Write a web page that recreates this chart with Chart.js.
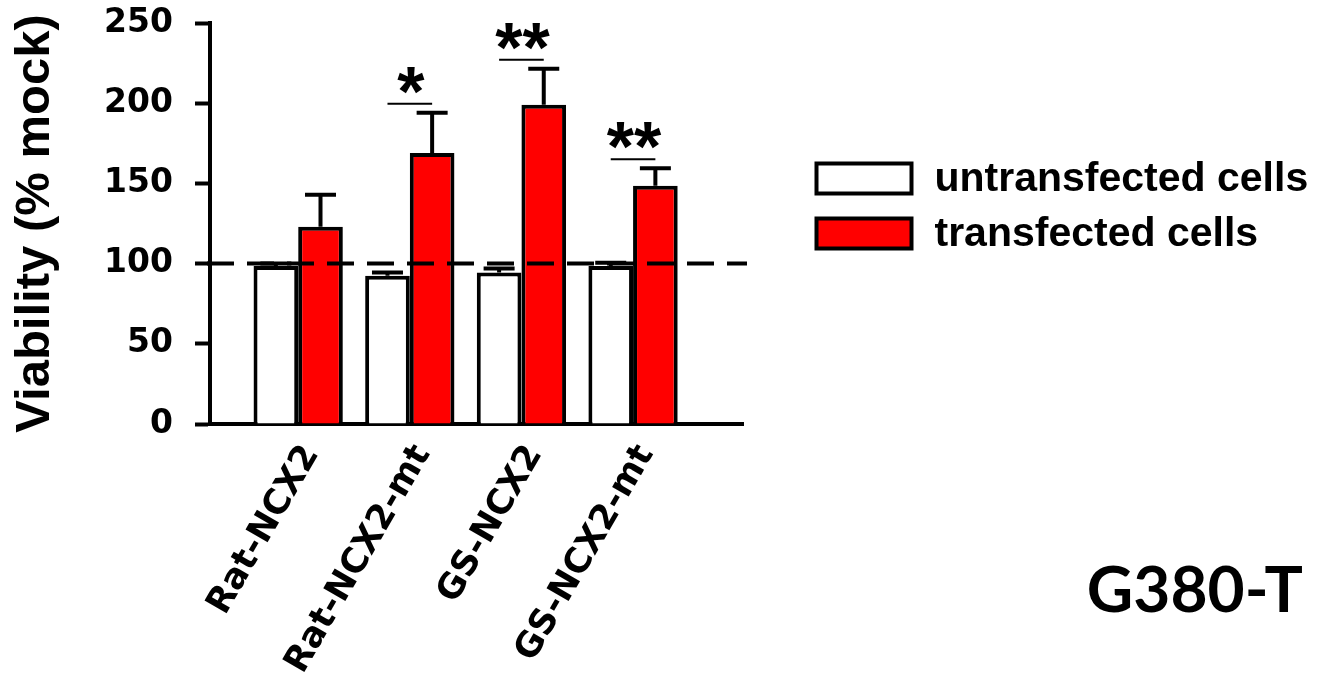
<!DOCTYPE html>
<html>
<head>
<meta charset="utf-8">
<script src="https://cdn.jsdelivr.net/npm/chart.js@4.4.1/dist/chart.umd.min.js"></script>
<style>
  html, body { margin: 0; padding: 0; background: #ffffff; }
  #wrap { width: 1326px; height: 678px; }
</style>
</head>
<body>
<div id="wrap"><canvas id="chart" width="1326" height="678"></canvas></div>
<script>
// Constructs tested, one group per construct
const groups = ['Rat-NCX2', 'Rat-NCX2-mt', 'GS-NCX2', 'GS-NCX2-mt'];

// Mean viability (% of mock) and SEM
const untransfected = [98.5, 92.5, 94.5, 98.5];
const untransfectedSem = [1.5, 2, 2.5, 2];
const transfected = [123, 169, 199, 148.5];
const transfectedSem = [20, 25, 22.5, 11];

// Significance of transfected vs untransfected
const significance = ['', '*', '**', '**'];

// Y axis range and mock reference level
const yMin = 0;
const yMax = 250;
const yStep = 50;
const mockLevel = 100;

const panelName = 'G380-T';

const BLACK = '#000000';
const RED = '#ff0000';
const LINE = 4;

// Upward SEM whiskers on every bar
const errorBarPlugin = {
  id: 'errorBars',
  afterDatasetsDraw(chart) {
    const ctx = chart.ctx;
    const y = chart.scales.y;
    const sems = [untransfectedSem, transfectedSem];
    const means = [untransfected, transfected];
    ctx.save();
    ctx.strokeStyle = BLACK;
    ctx.lineWidth = LINE;
    chart.data.datasets.forEach((ds, d) => {
      const meta = chart.getDatasetMeta(d);
      meta.data.forEach((bar, i) => {
        const top = y.getPixelForValue(means[d][i] + sems[d][i]);
        ctx.beginPath();
        ctx.moveTo(bar.x, bar.y);
        ctx.lineTo(bar.x, top);
        ctx.moveTo(bar.x - 15.5, top);
        ctx.lineTo(bar.x + 15.5, top);
        ctx.stroke();
      });
    });
    ctx.restore();
  }
};

// Dashed line at the mock level, drawn over the bars
const mockLinePlugin = {
  id: 'mockLine',
  afterDatasetsDraw(chart) {
    const ctx = chart.ctx;
    const area = chart.chartArea;
    const yPix = chart.scales.y.getPixelForValue(mockLevel);
    ctx.save();
    ctx.strokeStyle = BLACK;
    ctx.lineWidth = LINE;
    ctx.setLineDash([27, 13]);
    ctx.beginPath();
    ctx.moveTo(area.left - 3, yPix);
    ctx.lineTo(area.right + 4, yPix);
    ctx.stroke();
    ctx.restore();
  }
};

// Significance bars and asterisks
const significancePlugin = {
  id: 'significance',
  afterDatasetsDraw(chart) {
    const ctx = chart.ctx;
    const y = chart.scales.y;
    const left = chart.getDatasetMeta(0).data;
    const right = chart.getDatasetMeta(1).data;
    ctx.save();
    ctx.strokeStyle = BLACK;
    ctx.fillStyle = BLACK;
    ctx.lineWidth = 2;
    ctx.font = 'bold 70px "Liberation Sans", Arial, sans-serif';
    ctx.textAlign = 'center';
    ctx.textBaseline = 'alphabetic';
    significance.forEach((mark, i) => {
      if (!mark) return;
      const lineY = y.getPixelForValue(transfected[i] + transfectedSem[i]) - 9;
      const x0 = left[i].x;
      const x1 = right[i].x;
      ctx.beginPath();
      ctx.moveTo(x0, lineY);
      ctx.lineTo(x1, lineY);
      ctx.stroke();
      ctx.fillText(mark, (x0 + x1) / 2 + 1, lineY + 12);
    });
    ctx.restore();
  }
};

// Legend to the right of the plot
const sideLegendPlugin = {
  id: 'sideLegend',
  afterDraw(chart) {
    const ctx = chart.ctx;
    const area = chart.chartArea;
    ctx.save();
    ctx.font = 'bold 41px "Liberation Sans", Arial, sans-serif';
    ctx.textAlign = 'left';
    ctx.textBaseline = 'middle';
    chart.data.datasets.forEach((ds, k) => {
      const bx = area.right + 73.5;
      const by = area.top + 140.5 + k * 55;
      ctx.fillStyle = ds.backgroundColor;
      ctx.fillRect(bx, by, 95, 30);
      ctx.strokeStyle = BLACK;
      ctx.lineWidth = LINE;
      ctx.strokeRect(bx, by, 95, 30);
      ctx.fillStyle = BLACK;
      ctx.fillText(ds.label, bx + 118, by + 16);
    });
    ctx.restore();
  }
};

// Panel name in the lower right corner
const panelLabelPlugin = {
  id: 'panelLabel',
  afterDraw(chart) {
    const ctx = chart.ctx;
    ctx.save();
    ctx.fillStyle = BLACK;
    ctx.font = 'bold 64px Lato, "Open Sans", sans-serif';
    ctx.textAlign = 'right';
    ctx.textBaseline = 'alphabetic';
    ctx.fillText(panelName, chart.width - 23, 612);
    ctx.restore();
  }
};

const toPoints = vals => vals.map((v, i) => ({ x: i, y: v }));

new Chart(document.getElementById('chart'), {
  type: 'bar',
  data: {
    datasets: [
      {
        label: 'untransfected cells',
        data: toPoints(untransfected),
        backgroundColor: '#ffffff',
        borderColor: BLACK,
        borderWidth: LINE
      },
      {
        label: 'transfected cells',
        data: toPoints(transfected),
        backgroundColor: RED,
        borderColor: BLACK,
        borderWidth: LINE
      }
    ]
  },
  options: {
    responsive: false,
    animation: false,
    events: [],
    layout: { padding: { left: 0, top: 23, right: 583, bottom: 0 } },
    datasets: {
      bar: { categoryPercentage: 0.8, barPercentage: 1.0 }
    },
    plugins: {
      legend: { display: false },
      tooltip: { enabled: false }
    },
    scales: {
      x: {
        type: 'linear',
        offset: false,
        min: -0.79,
        max: 3.985,
        afterFit(scale) {
          scale.height = 254;
          scale.paddingLeft = 0;
          scale.paddingRight = 0;
        },
        afterBuildTicks(scale) { scale.ticks = groups.map((g, i) => ({ value: i })); },
        grid: { display: false, drawTicks: false },
        border: { display: true, color: BLACK, width: LINE },
        ticks: {
          autoSkip: false,
          minRotation: 60,
          maxRotation: 60,
          padding: 14,
          labelOffset: 13,
          color: BLACK,
          font: { family: '"DejaVu Sans", sans-serif', weight: 'bold', size: 35 },
          callback: (value) => groups[value] ?? ''
        }
      },
      y: {
        min: yMin,
        max: yMax,
        afterFit(scale) {
          scale.width = 210;
          scale.paddingTop = 0;
          scale.paddingBottom = 0;
        },
        grid: {
          drawOnChartArea: false,
          drawTicks: true,
          tickLength: 15,
          tickWidth: LINE,
          color: BLACK
        },
        border: { display: true, color: BLACK, width: LINE },
        ticks: {
          stepSize: yStep,
          padding: 22,
          color: BLACK,
          font: { family: '"DejaVu Sans", sans-serif', weight: 'bold', size: 33 }
        },
        title: {
          display: true,
          text: 'Viability (% mock)',
          color: BLACK,
          padding: { top: 6, bottom: 0 },
          font: { family: '"Liberation Sans", Arial, sans-serif', weight: 'bold', size: 49 }
        }
      }
    }
  },
  plugins: [errorBarPlugin, mockLinePlugin, significancePlugin, sideLegendPlugin, panelLabelPlugin]
});
</script>
</body>
</html>
